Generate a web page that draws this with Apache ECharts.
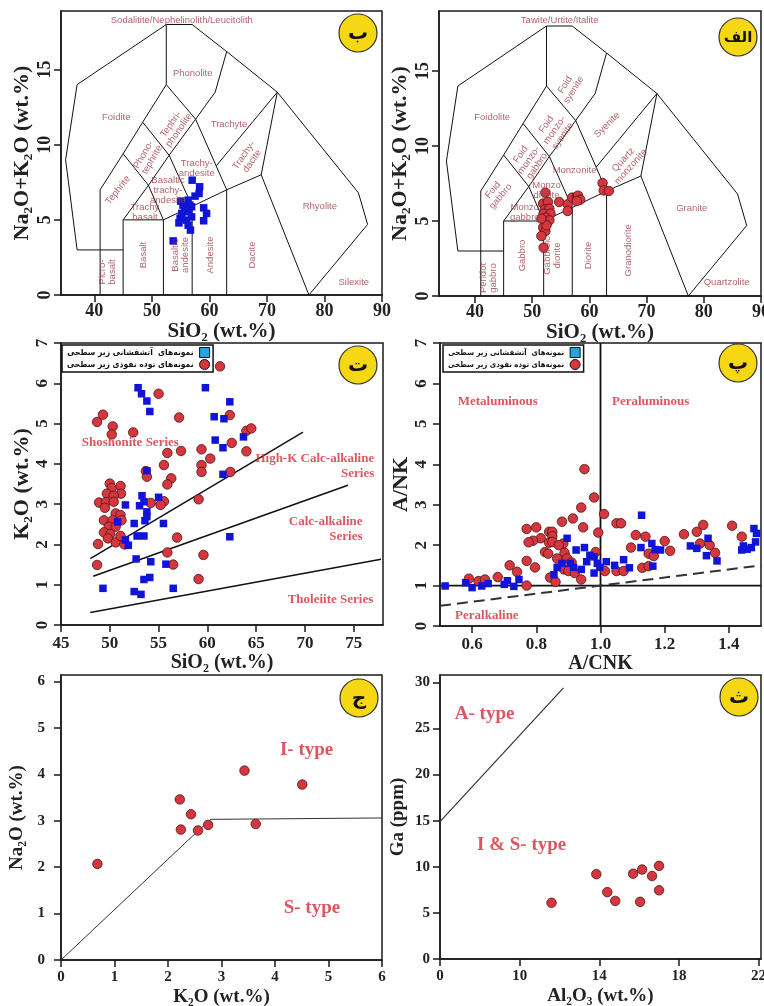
<!DOCTYPE html>
<html><head><meta charset="utf-8">
<script src="https://cdn.jsdelivr.net/npm/echarts@6/dist/echarts.min.js"></script>
<style>html,body{margin:0;padding:0;background:#fff}#c{width:764px;height:1006px}</style>
</head><body><div id="c"></div>
<script>
// ---------------- DATA ----------------
// TAS boundary polylines (SiO2, Na2O+K2O)
const tasBoundaries = [
  [[41,0],[41,7],[45,9.4],[48.4,11.5],[52.5,14],[52.5,18]],
  [[45,3],[37,3],[35,9],[37,14],[52.5,18],[57,18],[63,16.2],[71.8,13.5],[85.9,6.8],[87.5,4.7],[77.3,0]],
  [[45,0],[45,5],[52,5],[57,5.9],[63,7],[69,8],[77.3,0]],
  [[52,0],[52,5]],
  [[57,0],[57,5.9]],
  [[63,0],[63,7]],
  [[69,8],[71.8,13.5]],
  [[45,5],[49.4,7.3],[53,9.3],[57.6,11.7],[61,13.5],[63,16.2]],
  [[45,9.4],[49.4,7.3],[52,5]],
  [[48.4,11.5],[53,9.3],[57,5.9]],
  [[52.5,14],[57.6,11.7],[63,7]],
  [[61.2,8.6],[71.8,13.5]]
];
// Field names: [text, SiO2, alkalis, rotation]
const volcanicFields = [
  ['Sodalitite/Nephelinolith/Leucitolith',55.2,18.3,0],
  ['Phonolite',57.1,14.75,0],
  ['Foidite',43.8,11.83,0],
  ['Tephri-\nphonolite',54.0,11.16,55],
  ['Trachyte',63.4,11.36,0],
  ['Phono-\ntephrite',49.3,9.17,60],
  ['Trachy-\nandesite',57.8,8.44,0],
  ['Trachy-\ndacite',66.7,9.1,55],
  ['Tephrite',44.1,6.98,52],
  ['Basaltic\ntrachy-\nandesite',52.8,6.98,0],
  ['Trachy\nbasalt',48.8,5.5,0],
  ['Rhyolite',79.2,5.91,0],
  ['Picro-\nbasalt',42.2,1.53,90],
  ['Basalt',48.6,2.66,90],
  ['Basaltic\nandesite',54.9,2.66,90],
  ['Andesite',60.1,2.66,90],
  ['Dacite',67.4,2.66,90],
  ['Silexite',85.1,0.86,0]
];
const plutonicFields = [
  ['Tawite/Urtite/Italite',54.8,18.4,0],
  ['Foidolite',43.0,11.9,0],
  ['Foid\nsyenite',56.5,13.9,58],
  ['Foid\nmonzo-\nsyenite',53.9,11.05,55],
  ['Syenite',63.1,11.4,45],
  ['Foid\nmonzo-\ngabbro',49.4,9.05,55],
  ['Monzonite',57.4,8.4,0],
  ['Quartz\nmonzonite',66.6,8.85,48],
  ['Foid\ngabbro',43.8,6.85,50],
  ['Monzo\ndiorite',52.5,7.05,0],
  ['Monzo\ngabbro',48.7,5.6,0],
  ['Granite',77.9,5.85,0],
  ['Peridot\ngabbro',42.4,1.2,90],
  ['Gabbro',48.2,2.7,90],
  ['Gabbroic\ndiorite',53.6,2.7,90],
  ['Diorite',59.8,2.7,90],
  ['Granodiorite',66.8,3.05,90],
  ['Quartzolite',84.0,0.9,0]
];
// Samples
const tasVolcanic = [[57.0,7.64],[58.3,7.20],[57.5,6.58],[58.2,6.76],[55.0,6.25],[56.3,6.31],[56.6,5.98],[56.0,5.87],[55.7,5.65],[55.2,5.43],[54.9,5.10],[56.9,5.20],[56.0,4.98],[54.7,4.80],[59.0,5.80],[59.5,5.43],[59.0,4.94],[56.3,4.65],[56.7,4.32],[53.7,3.60],[55.4,5.98],[56.9,5.87],[56.4,5.54]];
const tasPlutonic = [[52.3,6.89],[62.3,7.53],[62.5,7.04],[63.4,7.00],[51.9,6.16],[52.75,6.27],[54.7,6.27],[52.2,5.76],[53.0,5.82],[56.2,6.11],[56.2,5.67],[57.0,6.56],[57.8,6.60],[58.0,6.69],[58.4,6.42],[57.8,6.33],[52.0,5.49],[53.2,5.49],[52.35,5.22],[52.5,4.93],[53.0,5.04],[51.9,4.56],[52.3,4.33],[51.6,4.00],[52.0,3.22],[52.5,4.71],[51.6,5.16]];
const k2oVolcanic = [[52.9,5.89],[53.25,5.74],[53.8,5.56],[54.1,5.30],[59.8,5.89],[62.3,5.54],[60.7,5.17],[61.7,5.12],[60.8,4.59],[61.6,4.40],[61.6,3.74],[63.7,4.67],[62.3,2.19],[53.8,3.83],[53.3,3.21],[53.5,3.06],[53.05,2.96],[53.8,2.81],[53.8,2.69],[53.6,2.59],[55.0,3.17],[51.6,2.98],[50.8,2.56],[52.5,2.52],[55.5,2.52],[51.6,2.11],[51.9,1.98],[52.8,2.21],[53.5,2.21],[52.7,1.64],[54.2,1.57],[55.75,1.51],[53.5,1.13],[54.1,1.18],[52.5,0.83],[53.2,0.76],[49.3,0.91],[56.5,0.91]];
const k2oPlutonic = [[61.3,6.42],[55.0,5.74],[57.1,5.15],[49.3,5.22],[48.7,5.04],[50.3,4.93],[50.2,4.73],[52.4,4.78],[62.3,5.21],[64.0,4.82],[64.5,4.88],[62.5,4.52],[64.0,4.31],[55.9,4.27],[57.3,4.32],[59.4,4.36],[60.3,4.13],[59.4,3.97],[59.4,3.80],[55.55,3.97],[53.7,3.82],[53.8,3.68],[56.3,3.64],[55.9,3.49],[59.1,3.12],[62.35,3.80],[55.55,3.07],[54.2,3.03],[55.2,2.98],[50.0,3.51],[50.2,3.40],[51.1,3.45],[51.15,3.26],[49.7,3.26],[50.4,3.21],[48.9,3.04],[49.6,3.05],[50.4,3.06],[49.5,2.91],[50.6,2.77],[51.1,2.73],[49.4,2.60],[50.3,2.60],[51.2,2.60],[49.9,2.44],[50.6,2.44],[49.4,2.30],[50.05,2.26],[49.8,2.15],[48.8,2.01],[50.6,2.05],[51.1,2.21],[51.5,2.00],[56.9,2.17],[55.9,1.80],[48.7,1.49],[56.5,1.50],[59.6,1.74],[59.1,1.14]];
const shoshoniteLine = [[48,1.65],[69.8,4.79]];
const highKLine = [[48.3,1.21],[74.4,3.47]];
const tholeiiteLine = [[48.0,0.31],[77.8,1.63]];
const seriesNames = [['Shoshonite Series',52.1,4.52,'center'],['High-K Calc-alkaline\nSeries',77.1,3.94,'right'],['Calc-alkaline\nSeries',75.9,2.37,'right'],['Tholeiite Series',77.0,0.64,'right']];

const anVolcanic = [[0.516,0.99],[0.58,1.07],[0.60,0.95],[0.63,0.99],[0.65,1.05],[0.70,1.03],[0.71,1.12],[0.73,0.98],[0.746,1.15],[0.855,1.27],[0.865,1.45],[0.88,1.55],[0.896,2.17],[0.906,1.55],[0.916,1.45],[0.924,1.88],[0.94,1.40],[0.95,1.94],[0.957,1.59],[0.967,1.75],[0.98,1.71],[0.98,1.31],[0.99,1.55],[0.998,1.45],[1.018,1.59],[1.044,1.50],[1.072,1.64],[1.09,1.44],[1.126,1.94],[1.128,2.74],[1.16,2.04],[1.17,1.89],[1.163,1.48],[1.187,1.88],[1.28,1.98],[1.30,1.92],[1.335,2.17],[1.33,1.74],[1.363,1.61],[1.44,1.88],[1.457,1.90],[1.445,1.98],[1.47,1.94],[1.478,2.41],[1.486,2.29],[1.483,2.08]];
const anPlutonic = [[0.95,3.88],[0.98,3.18],[0.94,2.93],[1.011,2.77],[0.946,2.44],[0.914,2.66],[0.88,2.58],[0.80,2.44],[0.77,2.40],[0.84,2.33],[0.85,2.33],[0.85,2.22],[0.814,2.17],[0.84,2.06],[0.85,2.08],[0.79,2.11],[0.776,2.07],[0.884,2.04],[0.87,2.00],[0.993,2.31],[0.827,1.83],[0.837,1.79],[0.888,1.81],[0.985,1.83],[0.865,1.67],[0.896,1.67],[0.91,1.57],[0.77,1.61],[0.796,1.45],[0.717,1.50],[0.74,1.34],[0.68,1.21],[0.59,1.17],[0.62,1.11],[0.64,1.15],[0.77,1.00],[0.843,1.20],[0.86,1.09],[0.886,1.40],[0.90,1.36],[0.92,1.31],[0.94,1.15],[1.05,2.54],[1.064,2.54],[1.014,1.36],[1.05,1.36],[1.072,1.36],[1.095,1.94],[1.11,2.25],[1.14,2.21],[1.15,1.79],[1.166,1.73],[1.13,1.44],[1.15,1.48],[1.20,2.10],[1.217,1.86],[1.26,2.27],[1.30,2.33],[1.31,2.04],[1.32,2.50],[1.34,2.00],[1.357,1.81],[1.41,2.48],[1.44,2.21]];
const acnkDivide = [[1,0],[1,7]];
const ankDivide = [[0.5,1],[1.5,1]];
const peralkLine = [[0.5,0.5],[1.5,1.5]];
const aluminaNames = [['Metaluminous',0.68,5.55],['Peraluminous',1.156,5.54],['Peralkaline',0.646,0.25]];

const naK = [[0.68,2.07],[2.22,3.46],[2.43,3.14],[2.24,2.81],[2.56,2.79],[2.75,2.91],[3.43,4.08],[3.64,2.93],[4.51,3.78]];
const isLine = [[0,0],[2.55,2.77],[2.8,3.03],[6,3.06]];
const isNames = [['I- type',4.59,4.53],['S- type',4.69,1.11]];

const gaAl = [[11.6,6.1],[13.85,9.2],[14.4,7.25],[14.8,6.3],[15.7,9.25],[16.15,9.7],[16.65,9.0],[17.0,10.1],[17.0,7.45],[16.05,6.2]];
const aLine = [[0,14.9],[12.2,29.4]];
const gaNames = [['A- type',5.6,26.6],['I & S- type',10.1,12.4]];
const alTicks = [0,10,14,18,22];

const legendVolc = 'نمونه\u200cهای  آتشفشانی زیر سطحی';
const legendPlut = 'نمونه\u200cهای توده نفوذی زیر سطحی';
const panelLetters = ['ب','الف','ت','پ','ج','ث'];

// ---------------- CHART ----------------
const SERIF = '"Liberation Serif","Times New Roman",serif';
const SANS = '"Liberation Sans",Arial,sans-serif';
const AXC = '#1a1a1a';
const RED = '#d6373f', REDB = '#4a1414', BLUE = '#0f14d6', TXTRED = '#d22d38';
// broken Al2O3 axis: 0..10 then 10,14,18,22 equally spaced
const alPos = v => v <= 10 ? v / 10 : 1 + (v - 10) / 4;

const grids = [
  {left:61, top:11, width:321, height:284},
  {left:439, top:11, width:322, height:285},
  {left:61, top:343, width:322, height:282},
  {left:440, top:343, width:321, height:283},
  {left:61, top:675, width:321, height:285},
  {left:440, top:675, width:321, height:284}
].map(g => Object.assign(g, {show:true, borderColor:AXC, borderWidth:1.5, containLabel:false, outerBoundsMode:'none'}));

function xAx(g, min, max, ticks, o) {
  return {type:'value', gridIndex:g, min, max, position:'bottom',
    axisLine:{show:true,onZero:false,lineStyle:{color:AXC,width:1.5}},
    axisTick:{show:true,length:7,customValues:ticks,lineStyle:{color:AXC,width:1.5}},
    axisLabel:{show:true,customValues:ticks,margin:o.margin,fontFamily:SERIF,fontWeight:'bold',fontSize:o.fs,color:'#222',formatter:o.fmt},
    splitLine:{show:false},
    name:o.name, nameLocation:'middle', nameGap:o.gap,
    nameTextStyle:{fontFamily:SERIF,fontWeight:'bold',fontSize:o.nfs,color:'#222'}};
}
function yAx(g, min, max, ticks, o) {
  return {type:'value', gridIndex:g, min, max, position:'left',
    axisLine:{show:true,onZero:false,lineStyle:{color:AXC,width:1.5}},
    axisTick:{show:true,length:7,customValues:ticks,lineStyle:{color:AXC,width:1.5}},
    axisLabel:{show:true,customValues:ticks,margin:o.margin,rotate:o.rot||0,fontFamily:SERIF,fontWeight:'bold',fontSize:o.fs,color:'#222'},
    splitLine:{show:false},
    name:o.name, nameLocation:'middle', nameGap:o.gap,
    nameTextStyle:{fontFamily:SERIF,fontWeight:'bold',fontSize:o.nfs,color:'#222'}};
}

const xAxes = [
  xAx(0,34.2,90,[40,50,60,70,80,90],{margin:7,fs:18,name:'SiO₂ (wt.%)',gap:19,nfs:21}),
  xAx(1,33.7,90,[40,50,60,70,80,90],{margin:7,fs:18,name:'SiO₂ (wt.%)',gap:19,nfs:21}),
  xAx(2,45,78,[45,50,55,60,65,70,75],{margin:10,fs:17,name:'SiO₂ (wt.%)',gap:27,nfs:20}),
  xAx(3,0.5,1.5,[0.6,0.8,1.0,1.2,1.4],{margin:10,fs:17,name:'A/CNK',gap:27,nfs:20,fmt:v=>v.toFixed(1)}),
  xAx(4,0,6,[0,1,2,3,4,5,6],{margin:10,fs:15,name:'K₂O (wt.%)',gap:28,nfs:19}),
  xAx(5,0,4.03,[0,1,2,3,4],{margin:10,fs:15,name:'Al₂O₃ (wt.%)',gap:28,nfs:19,fmt:v=>String(alTicks[Math.round(v)])})
];
const yAxes = [
  yAx(0,0,18.9,[0,5,10,15],{margin:7,fs:18,rot:90,name:'Na₂O+K₂O (wt.%)',gap:28,nfs:22}),
  yAx(1,0,19,[0,5,10,15],{margin:7,fs:18,rot:90,name:'Na₂O+K₂O (wt.%)',gap:28,nfs:22}),
  yAx(2,0,7,[0,1,2,3,4,5,6,7],{margin:10,fs:17,rot:90,name:'K₂O (wt.%)',gap:27,nfs:22}),
  yAx(3,0,7,[0,1,2,3,4,5,6,7],{margin:10,fs:17,rot:90,name:'A/NK',gap:26,nfs:22}),
  yAx(4,0,6.14,[0,1,2,3,4,5,6],{margin:16,fs:15,name:'Na₂O (wt.%)',gap:34,nfs:19}),
  yAx(5,0,30.8,[0,5,10,15,20,25,30],{margin:10,fs:15,name:'Ga (ppm)',gap:32,nfs:19})
];

const series = [];
function line(g, pts, extra) {
  series.push(Object.assign({type:'line', xAxisIndex:g, yAxisIndex:g, data:pts, symbol:'none', silent:true,
    lineStyle:{color:'#111', width:1}, z:2}, extra||{}));
}
function scatter(g, name, pts, kind) {
  const circ = kind === 'circle';
  series.push({type:'scatter', name, xAxisIndex:g, yAxisIndex:g, data:pts, z:4,
    symbol: circ ? 'circle' : 'rect', symbolSize: circ ? 9.5 : 7.5,
    itemStyle: circ ? {color:RED, borderColor:REDB, borderWidth:0.8, opacity:1} : {color:BLUE, borderColor:BLUE, borderWidth:0, opacity:1}});
}
function texts(g, items, style) {
  series.push({type:'scatter', xAxisIndex:g, yAxisIndex:g, silent:true, z:6, symbol:'circle', symbolSize:1,
    itemStyle:{color:'rgba(0,0,0,0)'},
    data: items.map(it => ({value:[it[1], it[2]], name:it[0], label:{rotate:it[3]||0, align:it[4]||'center'}})),
    label: Object.assign({show:true, position:'inside', formatter:p=>p.name}, style)});
}

// TAS panels
[0,1].forEach(g => tasBoundaries.forEach(b => line(g, b)));
const tasStyle = {fontFamily:SANS, fontSize:9.5, lineHeight:10, color:'#9e3a45'};
texts(0, volcanicFields, tasStyle);
texts(1, plutonicFields, tasStyle);
scatter(0, 'volcanic-tas', tasVolcanic, 'rect');
scatter(1, 'plutonic-tas', tasPlutonic, 'circle');

// K2O vs SiO2
[shoshoniteLine, highKLine, tholeiiteLine].forEach(l => line(2, l, {lineStyle:{color:'#111', width:1.5}}));
texts(2, seriesNames.map(s => [s[0], s[1], s[2], 0, s[3]]), {fontFamily:SERIF, fontWeight:'bold', fontSize:13, lineHeight:15, color:TXTRED});
scatter(2, legendPlut, k2oPlutonic, 'circle');
scatter(2, legendVolc, k2oVolcanic, 'rect');

// A/NK vs A/CNK
line(3, acnkDivide, {lineStyle:{color:'#111', width:1.8}});
line(3, ankDivide, {lineStyle:{color:'#111', width:1.8}});
line(3, peralkLine, {lineStyle:{color:'#333', width:2, type:[11,6]}});
texts(3, aluminaNames, {fontFamily:SERIF, fontWeight:'bold', fontSize:13, color:TXTRED});
scatter(3, legendPlut, anPlutonic, 'circle');
scatter(3, legendVolc, anVolcanic, 'rect');

// Na2O vs K2O
line(4, isLine, {lineStyle:{color:'#333', width:1}});
texts(4, isNames, {fontFamily:SERIF, fontWeight:'bold', fontSize:19, color:TXTRED});
scatter(4, 'na-k', naK, 'circle');

// Ga vs Al2O3
line(5, aLine.map(p => [alPos(p[0]), p[1]]), {lineStyle:{color:'#333', width:1.2}});
texts(5, gaNames.map(t => [t[0], alPos(t[1]), t[2]]), {fontFamily:SERIF, fontWeight:'bold', fontSize:19, color:TXTRED});
scatter(5, 'ga-al', gaAl.map(p => [alPos(p[0]), p[1]]), 'circle');

function legendAt(left, top, fs) {
  return {left, top, orient:'vertical', align:'right', selectedMode:false,
    data:[{name:legendVolc, icon:'rect', itemStyle:{color:'#25a4e0', borderColor:'#111', borderWidth:1}},
          {name:legendPlut, icon:'circle', itemStyle:{color:RED, borderColor:'#111', borderWidth:1}}],
    itemWidth:10, itemHeight:10, itemGap:1, padding:[2,3,2,5],
    borderColor:'#111', borderWidth:1.5, backgroundColor:'#fff',
    textStyle:{fontFamily:'"DejaVu Sans Condensed","DejaVu Sans",sans-serif', fontWeight:'bold', fontSize:fs, color:'#111', padding:[0,1,0,0]}};
}

const badges = [[358,33],[738,37],[358,365],[738,363],[359,698],[739,697]];
const graphic = badges.map((b, i) => ({type:'group', z:100, children:[
  {type:'circle', shape:{cx:b[0], cy:b[1], r:19}, style:{fill:'#f5d712', stroke:'#333', lineWidth:1.2}},
  {type:'text', style:{text:panelLetters[i], x:b[0], y:b[1]+1, align:'center', verticalAlign:'middle', textAlign:'center', textVerticalAlign:'middle', font:(i===1?'bold 15px':'bold 20px')+' "DejaVu Sans"', fill:'#111'}}
]}));

const chart = echarts.init(document.getElementById('c'), null, {renderer:'canvas', width:764, height:1006});
chart.setOption({
  animation:false, backgroundColor:'#fff',
  grid: grids, xAxis: xAxes, yAxis: yAxes, series,
  legend: [legendAt(62, 345, 8.5), legendAt(443, 345, 7.8)],
  graphic
});
</script></body></html>
